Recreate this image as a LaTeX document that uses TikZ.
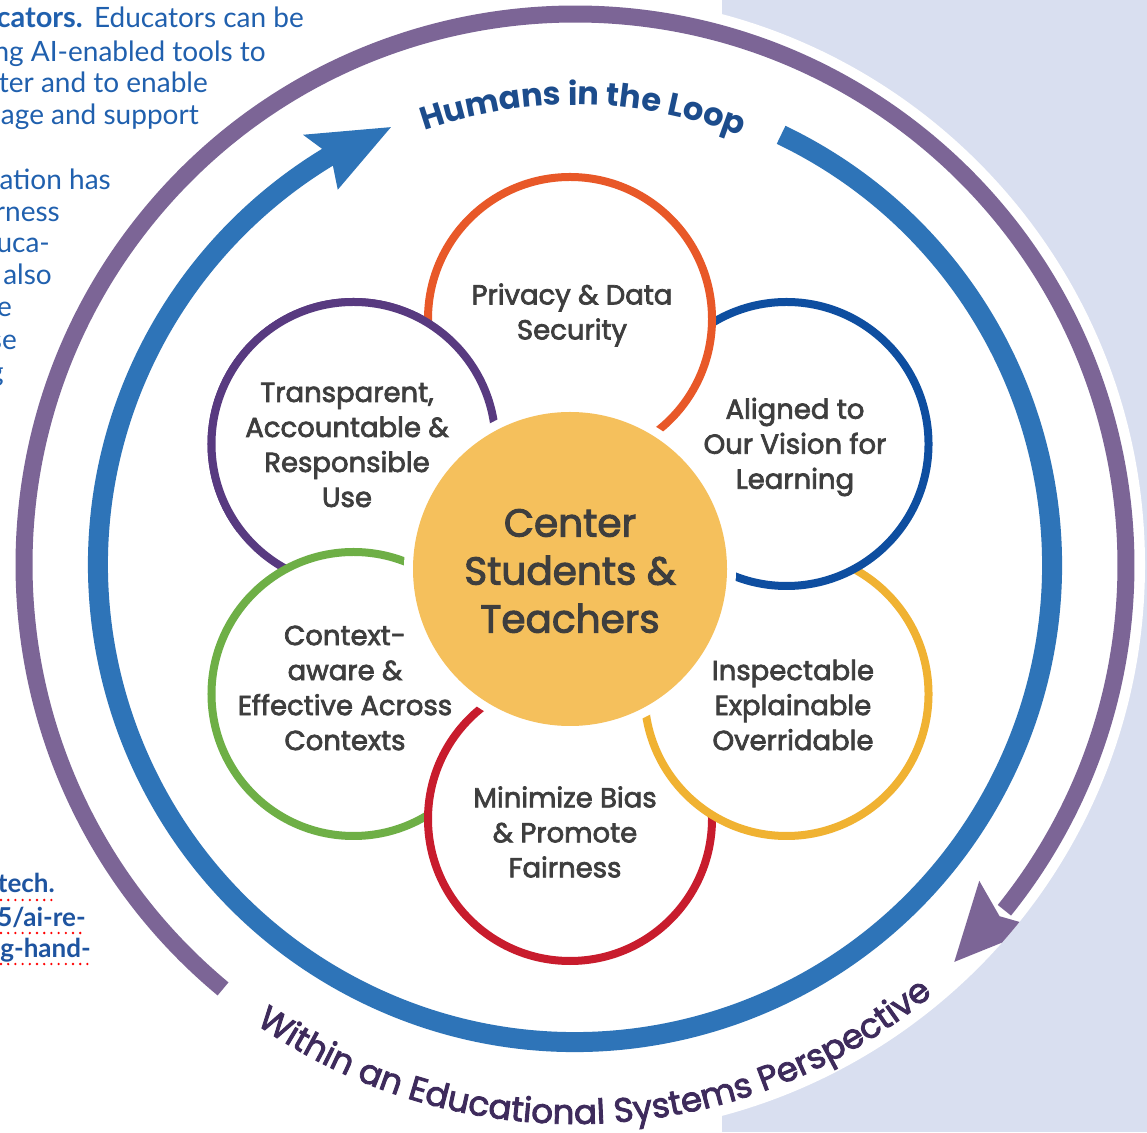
\documentclass[tikz,border=0pt]{standalone}
\usepackage{fontspec}
\setmainfont{Poppins}
\newfontfamily\semi{Poppins}[FakeBold=2.6]
\newfontfamily\pagefont{Lato}
\usetikzlibrary{calc,decorations.text}
\definecolor{bgl}{RGB}{217,223,240}
\definecolor{humblue}{RGB}{28,76,140}
\definecolor{withinc}{RGB}{62,43,92}
\definecolor{labgray}{RGB}{62,62,62}
\definecolor{pagblue}{RGB}{32,96,174}
\definecolor{linkblue}{RGB}{30,84,160}
\definecolor{ringpurple}{RGB}{124,101,150}
\definecolor{ringblue}{RGB}{46,116,184}
\definecolor{porange}{RGB}{232,88,40}
\definecolor{ppurple}{RGB}{88,58,128}
\definecolor{pblue}{RGB}{14,78,160}
\definecolor{pgold}{RGB}{240,178,50}
\definecolor{pred}{RGB}{200,28,45}
\definecolor{pgreen}{RGB}{110,175,70}
\definecolor{centery}{RGB}{245,192,92}
\tikzset{
  petal/.style={line width=8, fill=white},
  lab/.style={align=center, inner sep=0, text=labgray, font=\semi\fontsize{27.5}{35}\selectfont},
  pg/.style={anchor=base east, inner sep=0, text=pagblue, font=\pagefont\fontsize{28}{32}\selectfont},
  lnk/.style={anchor=base east, inner sep=0, text=linkblue, font=\pagefont\bfseries\fontsize{26}{32}\selectfont},
  dotu/.style={red, line width=2.6, line cap=round, dash pattern=on 0 off 7.2},
}
\begin{document}
\begin{tikzpicture}[x=1pt,y=1pt]
\useasboundingbox (0,0) rectangle (1147,1132);
\fill[bgl] (0,0) rectangle (1147,1132);
\fill[white] (0,0) rectangle (722,1132);
\coordinate (O) at (575,567);
\coordinate (Y) at (570,563);
\fill[white] (O) circle[radius=570];

% page text fragments
\node[pg] (p1) at (304,1104) {Educators can be};
\node[pg, font=\pagefont\bfseries\fontsize{29}{32}\selectfont] (p1b) at (83,1104) {cators.};
\node[pg] (p2) at (266,1070) {ng AI-enabled tools to};
\node[pg] (p3) at (208,1039) {ter and to enable};
\node[pg] (p4) at (199,1007) {age and support};
\node[pg] (p5) at (111,942) {cation has};
\node[pg] (p6) at (60,910) {rness};
\node[pg] (p7) at (50,879) {uca-};
\node[pg] (p8) at (52,847) {also};
\node[pg] (p9) at (12,815) {e};
\node[pg] (p10) at (17,782) {se};
\node[pg] (p11) at (4,750) {g};
\node[lnk] (l1) at (55,239) {tech.};
\node[lnk] (l2) at (86,206) {5/ai-re-};
\node[lnk] (l3) at (91,175) {g-hand-};
\coordinate (u1a) at (1,232); \coordinate (u1b) at (55,232);
\coordinate (u2a) at (1,199); \coordinate (u2b) at (86,199);
\coordinate (u3a) at (1,168); \coordinate (u3b) at (91,168);
\draw[dotu] (u1a) -- (u1b);
\draw[dotu] (u2a) -- (u2b);
\draw[dotu] (u3a) -- (u3b);

% outer purple ring with arrow
\draw[ringpurple, line width=17] ($(O)+(230.3:551)$) arc[start angle=230.3, end angle=-38.8, radius=551];
\begin{scope}
\clip (O) circle[radius=570];
\fill[ringpurple] ($(O)+(-46.3:549)$) -- ($(O)+(-38.0:513)$) -- ($(O)+(-39.6:551)$) -- ($(O)+(-38.0:589)$) -- cycle;
\end{scope}

% blue ring with arrow
\draw[ringblue, line width=20] ($(O)+(64.4:477)$) arc[start angle=64.4, end angle=-239.3, radius=477];
\fill[ringblue] ($(O)+(112.8:475)$) -- ($(O)+(122.3:509)$) -- ($(O)+(120.8:477)$) -- ($(O)+(122.3:444)$) -- cycle;

% curved titles
\path[decorate, decoration={text along path, text align=center,
  text={|\fontsize{32}{32}\selectfont\bfseries\color{humblue}|Humans in the Loop}}]
  ($(O)+(114:460)$) arc[start angle=114, end angle=64, radius=460];
\path[decorate, decoration={text along path, text align=center,
  text={|\semi\fontsize{34}{34}\selectfont\color{withinc}|Within an Educational Systems Perspective}}]
  ($(O)+(223.5:559)$) arc[start angle=223.5, end angle=321.5, radius=559];

% petals
\coordinate (cP) at ($(Y)+(150:250)$);
\coordinate (cO) at ($(Y)+(90:250)$);
\coordinate (cB) at ($(Y)+(30:250)$);
\coordinate (cG) at ($(Y)+(-30:250)$);
\coordinate (cR) at ($(Y)+(-90:250)$);
\coordinate (cN) at ($(Y)+(210:250)$);
\filldraw[petal, draw=ppurple] (cP) circle[radius=142];
\filldraw[petal, draw=pgreen] (cN) circle[radius=142];
\filldraw[petal, draw=pred] (cR) circle[radius=142];
\filldraw[petal, draw=pgold] (cG) circle[radius=142];
\filldraw[petal, draw=pblue] (cB) circle[radius=142];
\filldraw[petal, draw=porange] (cO) circle[radius=142];
\begin{scope}
\clip (150,600) rectangle (700,900);
\filldraw[petal, draw=ppurple] (cP) circle[radius=142];
\end{scope}

% center
\fill[white] (Y) circle[radius=166];
\node[circle, fill=centery, minimum size=314, inner sep=0] (ctr) at (Y) {};
\node[align=center, text=labgray, font=\semi\fontsize{39}{48}\selectfont] (ctrt) at (570,561) {Center\\Students \&\\Teachers};

% labels
\node[lab] (tO) at (572,817) {Privacy \& Data\\Security};
\node[lab] (tP) at (347,687) {Transparent,\\Accountable \&\\Responsible\\Use};
\node[lab] (tB) at (795,685) {Aligned to\\Our Vision for\\Learning};
\node[lab] (tG) at (793,427) {Inspectable\\Explainable\\Overridable};
\node[lab] (tR) at (565,300) {Minimize Bias\\\& Promote\\Fairness};
\node[lab] (tN) at (345,444) {Context-\\aware \&\\Effective Across\\Contexts};
\end{tikzpicture}
\end{document}
